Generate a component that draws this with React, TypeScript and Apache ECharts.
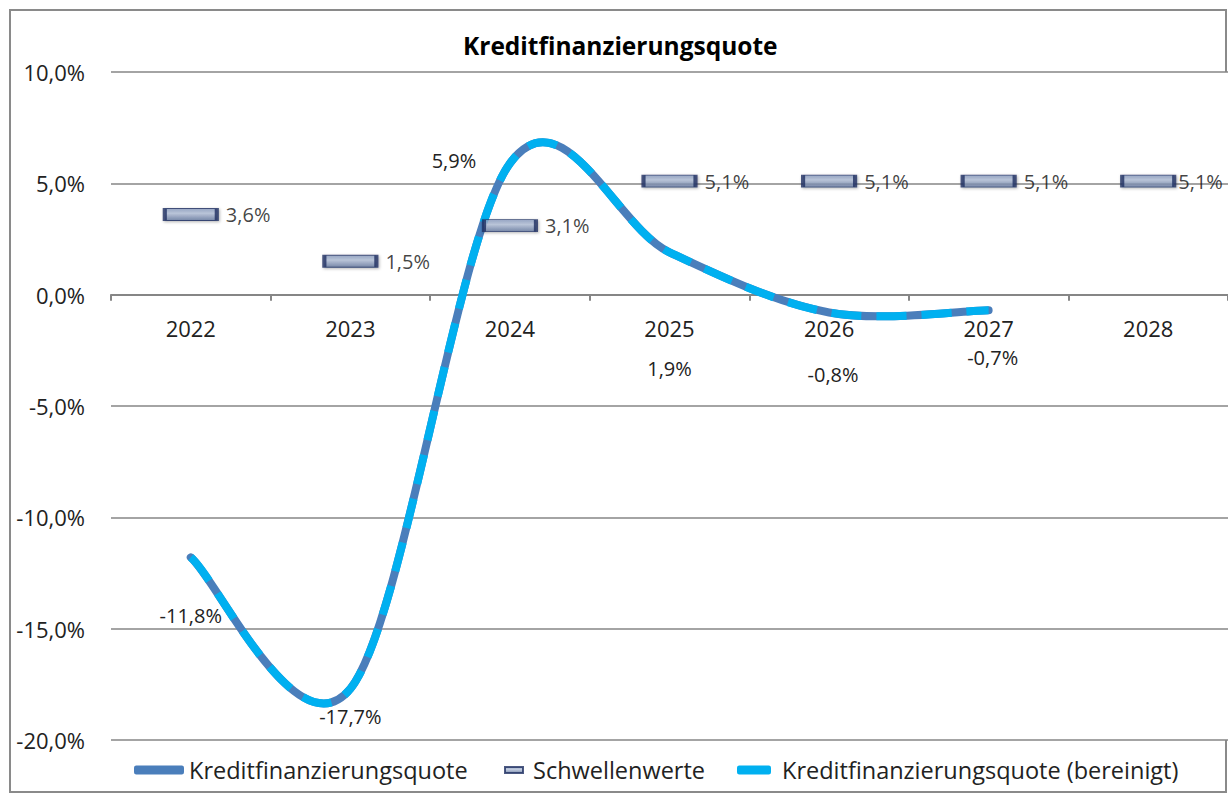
import React, { useEffect, useRef } from "react";
import * as echarts from "echarts";

const years = ["2022", "2023", "2024", "2025", "2026", "2027", "2028"];
const quote = [-11.8, -17.7, 5.9, 1.9, -0.8, -0.7];
const quoteAdj = [-11.8, -17.7, 5.9, 1.9, -0.8, -0.7];
const thresholds = [3.6, 1.5, 3.1, 5.1, 5.1, 5.1, 5.1];
const yMin = -20;
const yMax = 10;
const yStep = 5;

const labelOffsets: number[][] = [[0, 58], [0, 28], [-56, -3], [0, 116], [4, 62], [4, 47]];

const FONT = "Open Sans";
const fmt = (v: number) => v.toFixed(1).replace(".", ",") + "%";

// Excel-like smooth curve (Catmull-Rom style, tension 1/6) through the points
function smoothPath(pts: number[][]): string {
  if (!pts.length) return "";
  let d = `M${pts[0][0]},${pts[0][1]}`;
  for (let i = 0; i < pts.length - 1; i++) {
    const p0 = pts[i];
    const p1 = pts[i + 1];
    const prev = pts[i - 1] || p0;
    const next = pts[i + 2] || p1;
    const c1x = p0[0] + (p1[0] - prev[0]) / 6;
    const c1y = p0[1] + (p1[1] - prev[1]) / 6;
    const c2x = p1[0] - (next[0] - p0[0]) / 6;
    const c2y = p1[1] - (next[1] - p0[1]) / 6;
    d += ` C${c1x},${c1y} ${c2x},${c2y} ${p1[0]},${p1[1]}`;
  }
  return d;
}

function makeCurveRenderer(values: number[], color: string, dash: number[] | null, withLabels: boolean) {
  return (params: any, api: any) => {
    const idx = params.dataIndex;
    const children: any[] = [];
    if (idx === 0) {
      const pts = values.map((v, i) => api.coord([i, v]));
      children.push({
        type: "path",
        shape: { pathData: smoothPath(pts) },
        style: {
          fill: "none",
          stroke: color,
          lineWidth: 8,
          lineCap: dash ? "butt" : "round",
          lineDash: dash || undefined,
        },
      });
    }
    if (withLabels) {
      const p = api.coord([idx, values[idx]]);
      const off = labelOffsets[idx] || [0, 0];
      children.push({
        type: "text",
        x: p[0] + off[0],
        y: p[1] + off[1],
        style: {
          text: fmt(values[idx]),
          fontFamily: FONT,
          fontSize: 20,
          fill: "#222",
          align: "center",
          verticalAlign: "middle",
        },
        z2: 10,
      });
    }
    return { type: "group", children };
  };
}

export default function App() {
  const ref = useRef<HTMLDivElement>(null);
  useEffect(() => {
    if (!ref.current) return;
    const chart = echarts.init(ref.current, null, { renderer: "svg" });
    const markerFill = {
      type: "linear", x: 0, y: 0, x2: 0, y2: 1,
      colorStops: [
        { offset: 0, color: "#8497bb" },
        { offset: 0.4, color: "#b3c0d8" },
        { offset: 1, color: "#62769d" },
      ],
    };
    chart.setOption({
      animation: false,
      backgroundColor: "#ffffff",
      textStyle: { fontFamily: FONT },
      title: {
        text: "Kreditfinanzierungsquote",
        left: 458,
        top: 28,
        textStyle: { fontFamily: FONT, fontSize: 24.5, fontWeight: "bold", color: "#000" },
      },
      grid: { left: 111, top: 72, width: 1120, height: 668 },
      xAxis: {
        type: "category",
        data: years,
        boundaryGap: true,
        offset: -(740 - 294.67),
        axisLine: { onZero: false, lineStyle: { color: "#868686", width: 2 } },
        axisTick: { show: true, length: 6, lineStyle: { color: "#868686", width: 2 } },
        axisLabel: { fontFamily: FONT, fontSize: 22, color: "#222", margin: 22 },
        splitLine: { show: false },
      },
      yAxis: {
        type: "value",
        min: yMin,
        max: yMax,
        interval: yStep,
        axisLine: { show: false },
        axisTick: { show: false },
        axisLabel: { fontFamily: FONT, fontSize: 22, color: "#222", margin: 26, formatter: (v: number) => fmt(v) },
        splitLine: { lineStyle: { color: "#868686", width: 1.5 } },
      },
      legend: [
        {
          data: ["Kreditfinanzierungsquote"],
          left: 129, top: 753,
          icon: "roundRect", itemWidth: 50, itemHeight: 9,
          textStyle: { fontFamily: FONT, fontSize: 23.5, color: "#222" },
        },
        {
          data: ["Schwellenwerte"],
          left: 499, top: 753,
          icon: "rect", itemWidth: 18, itemHeight: 6,
          textStyle: { fontFamily: FONT, fontSize: 23.5, color: "#222", padding: [0, 0, 0, 5] },
        },
        {
          data: ["Kreditfinanzierungsquote (bereinigt)"],
          left: 732, top: 753,
          icon: "roundRect", itemWidth: 34, itemHeight: 9,
          textStyle: { fontFamily: FONT, fontSize: 23.5, color: "#222", padding: [0, 0, 0, 6] },
        },
      ],
      graphic: [
        { type: "polyline", shape: { points: [[1226, 72], [1226, 10], [10, 10], [10, 792], [1226, 792], [1226, 740]] }, style: { stroke: "#8a8a8a", lineWidth: 2, fill: "none" }, silent: true },
      ],
      series: [
        {
          name: "Kreditfinanzierungsquote",
          type: "custom",
          coordinateSystem: "cartesian2d",
          data: quote.map((v, i) => [i, v]),
          encode: { x: 0, y: 1 },
          itemStyle: { color: "#4a7ebb" },
          renderItem: makeCurveRenderer(quote, "#4a7ebb", null, true),
          z: 2,
        },
        {
          name: "Kreditfinanzierungsquote (bereinigt)",
          type: "custom",
          coordinateSystem: "cartesian2d",
          data: quoteAdj.map((v, i) => [i, v]),
          encode: { x: 0, y: 1 },
          itemStyle: { color: "#00b0f0" },
          renderItem: makeCurveRenderer(quoteAdj, "#00b0f0", [30, 15], false),
          z: 3,
        },
        {
          name: "Schwellenwerte",
          type: "scatter",
          data: thresholds.map((v, i) => ({
            value: v,
            label: i === thresholds.length - 1 ? { distance: 2 } : undefined,
          })),
          symbol: "rect",
          symbolSize: [52, 12],
          itemStyle: { color: markerFill, borderColor: "#1f2f62", borderWidth: 2, shadowBlur: 3, shadowColor: "rgba(0,0,0,0.35)", shadowOffsetX: 1, shadowOffsetY: 1 },
          z: 4,
          label: {
            show: true,
            position: "right",
            distance: 7,
            fontFamily: FONT,
            fontSize: 20,
            color: "#111",
            formatter: (p: any) => fmt(p.value),
          },
        },
      ],
    });
    return () => chart.dispose();
  }, []);
  return (
    <div
      ref={ref}
      style={{ position: "fixed", left: 0, top: 0, width: 1228, height: 794 }}
    />
  );
}
